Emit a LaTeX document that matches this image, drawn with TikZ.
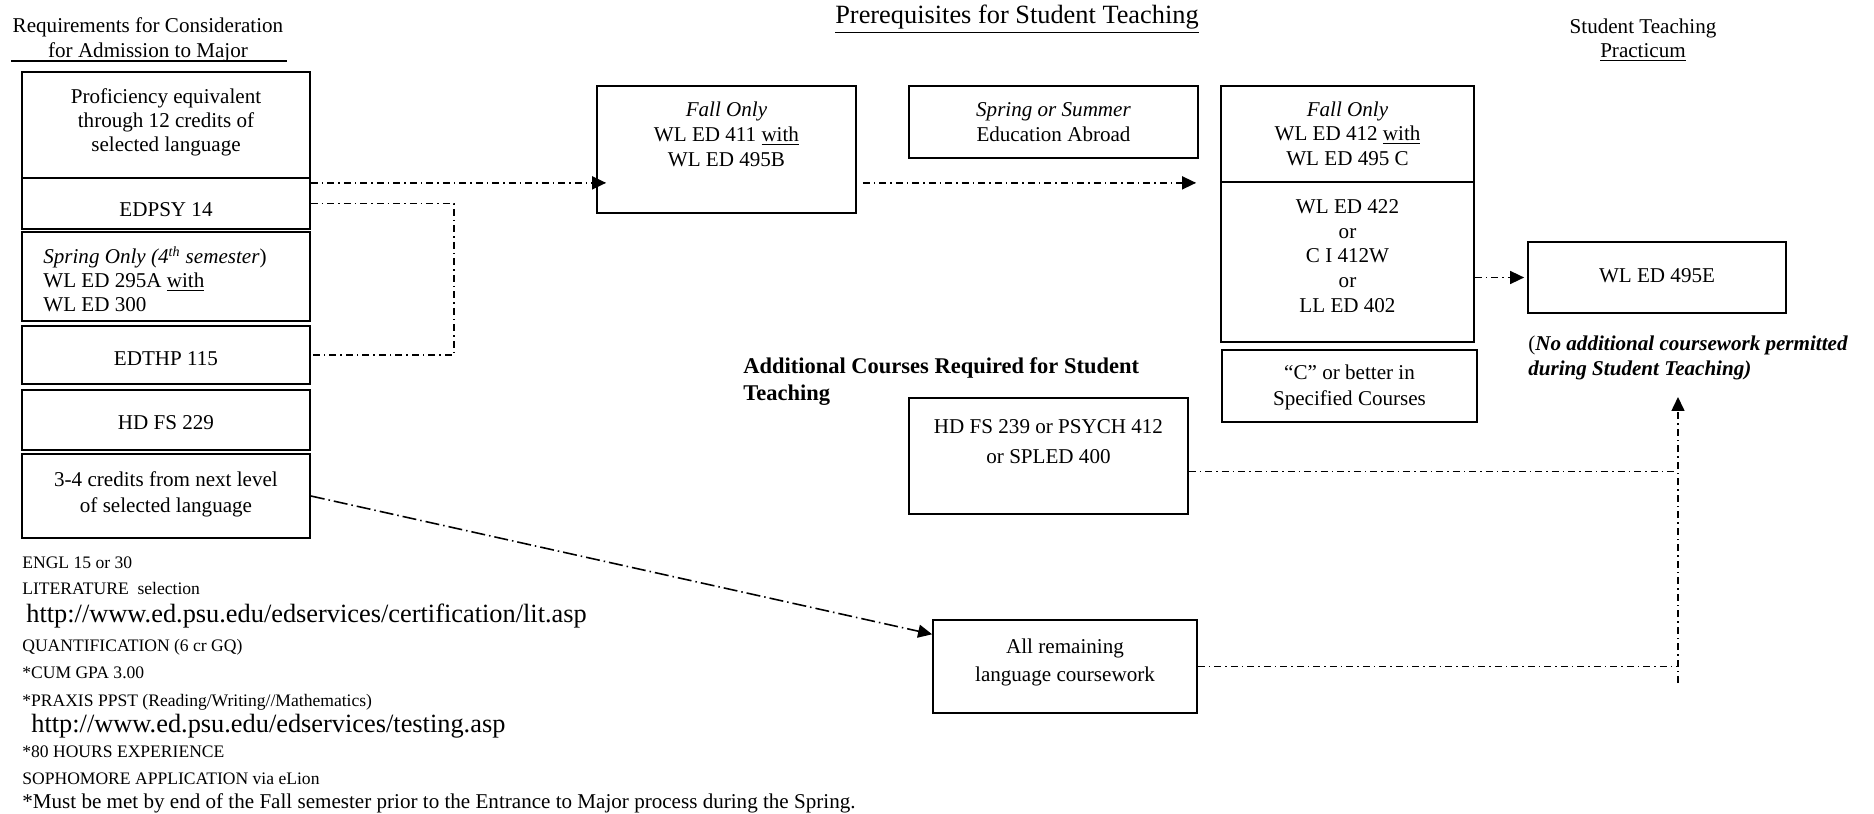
\documentclass[tikz,border=0pt]{standalone}
\usepackage{fontspec}
\setmainfont{Liberation Serif}
\usetikzlibrary{arrows.meta, fit, calc}

\newcommand{\hs}{\rule{0pt}{9pt}}

\begin{document}
\begin{tikzpicture}[x=0.02cm, y=-0.02cm,
        box/.style={draw, line width=1pt, inner sep=0pt},
        txt/.style={inner sep=0pt, align=center, font=\fontsize{12}{14.2}\selectfont},
        link/.style={line width=0.9pt, dash pattern=on 0.14cm off 0.08cm on 0.03cm off 0.08cm},
        arr/.style={-{Triangle[length=0.28cm, width=0.26cm]}},
        list/.style={inner sep=0pt, anchor=base west, font=\fontsize{10}{12}\selectfont},
        url/.style={inner sep=0pt, anchor=base west, font=\fontsize{15}{18}\selectfont}]
        \useasboundingbox (0,0) rectangle (1874,814);

        % Headings
        \node[txt, anchor=north] (hreq) at (148,16.2) {\hs Requirements for Consideration\\for Admission to Major};
        \draw[line width=0.6pt] (11,61) -- (287,61);
        \node[txt, anchor=base, font=\fontsize{15}{18}\selectfont] (hpre) at (1017,24) {\underline{Prerequisites for Student Teaching}};
        \node[txt, anchor=north, font=\fontsize{12}{13.7}\selectfont] (hst) at (1643,17.2) {\hs Student Teaching\\\underline{Practicum}};

        % Requirements for the major
        \node[box, fit={(22,72) (310,178)}] (r1) {};
        \node[box, fit={(22,178) (310,229)}] (r2) {};
        \node[box, fit={(22,232) (310,321)}] (r3) {};
        \node[box, fit={(22,326) (310,384)}] (r4) {};
        \node[box, fit={(22,390) (310,450)}] (r5) {};
        \node[box, fit={(22,454) (310,538)}] (r6) {};
        \node[txt, anchor=north, font=\fontsize{12}{13.66}\selectfont] (t1) at (166,87.2) {\hs Proficiency equivalent\\through 12 credits of\\selected language};
        \node[txt, anchor=base] (t2) at (166,217) {EDPSY 14};
        \node[txt, anchor=north west, align=left, font=\fontsize{12}{13.66}\selectfont] (t3) at (43,246.2) {\hs\textit{Spring Only (4\textsuperscript{th} semester})\\WL ED 295A \underline{with}\\WL ED 300};
        \node[txt, anchor=base] (t4) at (166,365) {EDTHP 115};
        \node[txt, anchor=base] (t5) at (166,429) {HD FS 229};
        \node[txt, anchor=north, font=\fontsize{12}{14.8}\selectfont] (t6) at (166,470.2) {\hs 3-4 credits from next level\\of selected language};

        % Prerequisites for student teaching
        \node[box, fit={(597,86) (856,213)}] (p1) {};
        \node[box, fit={(909,86) (1198,158)}] (p2) {};
        \node[box, fit={(1221,86) (1474,182)}] (p3) {};
        \node[box, fit={(1221,182) (1474,342)}] (p4) {};
        \node[box, fit={(1222,350) (1477,422)}] (p5) {};
        \node[txt, anchor=north] (u1) at (726.5,100.2) {\hs\textit{Fall Only}\\WL ED 411 \underline{with}\\WL ED 495B};
        \node[txt, anchor=north] (u2) at (1053.5,100.2) {\hs\textit{Spring or Summer}\\Education Abroad};
        \node[txt, anchor=north, font=\fontsize{12}{13.9}\selectfont] (u3) at (1347.5,100.2) {\hs\textit{Fall Only}\\WL ED 412 \underline{with}\\WL ED 495 C};
        \node[txt, anchor=north, font=\fontsize{12}{14.1}\selectfont] (u4) at (1347.5,197.2) {\hs WL ED 422\\or\\C I 412W\\or\\LL ED 402};
        \node[txt, anchor=north, font=\fontsize{12}{14.8}\selectfont] (u5) at (1349.5,363.2) {\hs ``C'' or better in\\Specified Courses};

        % Student teaching practicum
        \node[box, fit={(1528,242) (1786,313)}] (st) {};
        \node[txt, anchor=base] (s1) at (1657,283) {WL ED 495E};
        \node[txt, anchor=north west, align=left, font=\fontsize{12}{14.2}\selectfont\bfseries\itshape] (s2) at (1528,334.2) {\hs\textup{\mdseries(}No additional coursework permitted\\during Student Teaching)};

        % Additional courses
        \node[txt, anchor=north west, align=left, font=\fontsize{12.8}{15.4}\selectfont\bfseries] (hadd) at (743,357.2) {\hs Additional Courses Required for Student\\Teaching};
        \node[box, fit={(909,398) (1188,514)}] (a1) {};
        \node[box, fit={(933,620) (1197,713)}] (a2) {};
        \node[txt, anchor=north, font=\fontsize{12}{17.1}\selectfont] (v1) at (1048.5,417.2) {\hs HD FS 239 or PSYCH 412\\or SPLED 400};
        \node[txt, anchor=north, font=\fontsize{12}{15.9}\selectfont] (v2) at (1065,637.2) {\hs All remaining\\language coursework};

        % Notes under the requirements
        \node[list] (n1) at (22,568) {ENGL 15 or 30};
        \node[list] (n2) at (22,594) {LITERATURE\ \ selection};
        \node[url] (n3) at (26,622) {http://www.ed.psu.edu/edservices/certification/lit.asp};
        \node[list] (n4) at (22,651) {QUANTIFICATION (6 cr GQ)};
        \node[list] (n5) at (22,678) {*CUM GPA 3.00};
        \node[list] (n6) at (22,706) {*PRAXIS PPST (Reading/Writing//Mathematics)};
        \node[url] (n7) at (31,732) {http://www.ed.psu.edu/edservices/testing.asp};
        \node[list] (n8) at (22,757) {*80 HOURS EXPERIENCE};
        \node[list] (n9) at (22,784) {SOPHOMORE APPLICATION via eLion};
        \node[list, font=\fontsize{12}{14}\selectfont] (n10) at (22,808) {*Must be met by end of the Fall semester prior to the Entrance to Major process during the Spring.};

        % Joints of the dash-dot lines
        \coordinate (jx) at (454,0);
        \coordinate (mtop) at (1678,397);
        \coordinate (mbot) at (1678,683);
        \coordinate (a1out) at ($(a1.north east)!0.63!(a1.south east)$);

        % Arrows
        \draw[link, arr, shorten >=-0.2cm] (r1.east |- p3.south) -- (p1.west |- p3.south); % requirements to WL ED 411
        \draw[link] (r2.east) -- (r2.east -| jx) -- (r4.east -| jx) -- (r4.east); % EDPSY 14 with EDTHP 115
        \draw[link, arr, shorten <=0.12cm, shorten >=0.48cm] (p1.east |- p3.south) -- (p3.south west); % WL ED 411 to WL ED 412
        \draw[link, arr, shorten >=0.06cm] (p4.east |- st.west) -- (st.west); % to WL ED 495E
        \draw[link, arr, dash pattern=on 0.28cm off 0.08cm on 0.03cm off 0.08cm] (r6.east) -- ($(a2.north west)!0.16!(a2.south west)$); % to remaining coursework
        \draw[link] (a1out) -- (a1out -| mtop); % HD FS 239 line
        \draw[link] (a2.east) -- (a2.east -| mtop); % remaining coursework line
        \draw[link, arr] (mbot) -- (mtop); % up to the practicum
\end{tikzpicture}
\end{document}
